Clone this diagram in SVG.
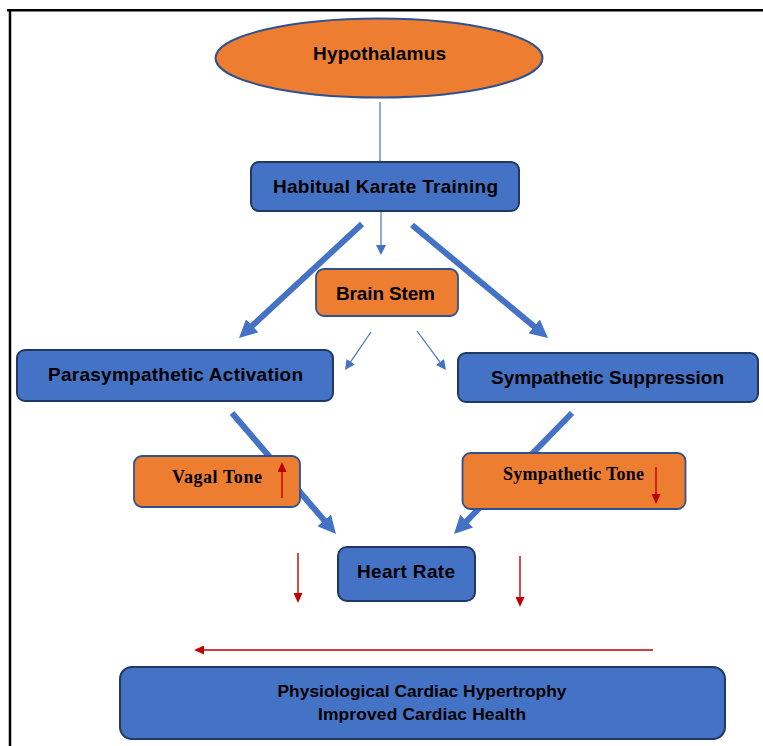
<svg xmlns="http://www.w3.org/2000/svg" width="763" height="746" viewBox="0 0 763 746">
<style>
.blue{fill:#4472C4;stroke:#1F3864;stroke-width:2}
.org{fill:#ED7D31;stroke:#2F528F;stroke-width:1.8}
.t{font-family:"Liberation Sans",Arial,sans-serif;font-weight:bold;font-size:19px;fill:#000;text-anchor:middle}
.b{font-size:17.4px}
.s{font-family:"Liberation Serif","Times New Roman",serif;font-weight:bold;font-size:18px;fill:#000;text-anchor:middle}
.thick{stroke:#4472C4;stroke-width:6;fill:none}
.thin{stroke:#4472C4;stroke-width:1.2;fill:none}
.red{stroke:#C00000;stroke-width:1.4;fill:none}
</style>
<defs>
<marker id="ah" markerUnits="userSpaceOnUse" markerWidth="18" markerHeight="18" refX="1" refY="9" orient="auto"><path d="M0,0 L18,9 L0,18 z" fill="#4472C4"/></marker>
<marker id="as" markerUnits="userSpaceOnUse" markerWidth="10" markerHeight="10" refX="1" refY="5" orient="auto"><path d="M0,0 L10,5 L0,10 z" fill="#4472C4"/></marker>
<marker id="ar" markerUnits="userSpaceOnUse" markerWidth="10" markerHeight="9" refX="1" refY="4.5" orient="auto"><path d="M0,0 L10,4.5 L0,9 z" fill="#C00000"/></marker>
</defs>
<rect width="763" height="746" fill="#fff"/>
<g id="frame" stroke="#000" stroke-width="2.5">
<line x1="7" y1="10.3" x2="763" y2="10.3"/>
<line x1="10" y1="9" x2="10" y2="746"/>
</g>
<g id="connectors">
<line class="thin" x1="380" y1="102" x2="380" y2="162"/>
<line class="thin" x1="381" y1="211" x2="381" y2="246" marker-end="url(#as)"/>
<line class="thin" x1="371" y1="332" x2="350.1" y2="362.6" marker-end="url(#as)"/>
<line class="thin" x1="417" y1="331" x2="440.6" y2="362.8" marker-end="url(#as)"/>
<line class="thick" x1="362" y1="224" x2="251.5" y2="326.4" marker-end="url(#ah)"/>
<line class="thick" x1="412" y1="225" x2="534.9" y2="327.1" marker-end="url(#ah)"/>
<line class="thick" x1="232" y1="413" x2="324.9" y2="521.1" marker-end="url(#ah)"/>
<line class="thick" x1="572" y1="413" x2="465.9" y2="521.8" marker-end="url(#ah)"/>
<line class="red" x1="298" y1="553" x2="298" y2="594" marker-end="url(#ar)"/>
<line class="red" x1="520" y1="556" x2="520" y2="598" marker-end="url(#ar)"/>
<line class="red" x1="653" y1="650" x2="203" y2="650" marker-end="url(#ar)"/>
</g>
<g id="hypothalamus">
<ellipse cx="379" cy="58" rx="163.5" ry="39.5" fill="#ED7D31" stroke="#2F528F" stroke-width="2"/>
<text class="t" x="379.5" y="59.5" textLength="133">Hypothalamus</text>
</g>
<g id="habitual">
<rect class="blue" x="251" y="162" width="268" height="49" rx="8"/>
<text class="t" x="385.5" y="192.5" textLength="225">Habitual Karate Training</text>
</g>
<g id="brainstem">
<rect class="org" x="316" y="269" width="142" height="47" rx="8"/>
<text class="t" x="385.5" y="299.5" textLength="99">Brain Stem</text>
</g>
<g id="parasympathetic">
<rect class="blue" x="17" y="350" width="316" height="51" rx="8"/>
<text class="t" x="175.5" y="380.5" textLength="255">Parasympathetic Activation</text>
</g>
<g id="sympathetic">
<rect class="blue" x="458" y="353" width="300" height="49" rx="8"/>
<text class="t" x="607.5" y="383.5" textLength="233">Sympathetic Suppression</text>
</g>
<g id="vagal">
<rect class="org" x="134" y="456" width="166" height="51" rx="8"/>
<text class="s" x="217" y="483" textLength="90">Vagal Tone</text>
<line class="red" x1="282" y1="498" x2="282" y2="471" marker-end="url(#ar)"/>
</g>
<g id="symptone">
<rect class="org" x="462.5" y="453" width="223" height="56" rx="8"/>
<text class="s" x="573.5" y="480" textLength="141">Sympathetic Tone</text>
<line class="red" x1="656" y1="467" x2="656" y2="495" marker-end="url(#ar)"/>
</g>
<g id="heartrate">
<rect class="blue" x="338" y="547" width="137" height="54" rx="9" stroke="#2F528F"/>
<text class="t" x="406" y="577.5" textLength="98">Heart Rate</text>
</g>
<g id="outcome">
<rect class="blue" x="120" y="667" width="605" height="72" rx="12"/>
<text class="t b" x="422" y="697" textLength="289">Physiological Cardiac Hypertrophy</text>
<text class="t b" x="422" y="720" textLength="208">Improved Cardiac Health</text>
</g>
</svg>
